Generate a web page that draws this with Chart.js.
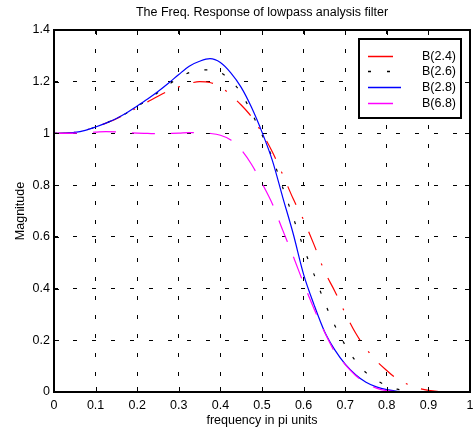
<!DOCTYPE html>
<html><head><meta charset="utf-8">
<script src="https://cdn.jsdelivr.net/npm/chart.js@4.4.0/dist/chart.umd.min.js"></script>
<style>html,body{margin:0;padding:0;background:#fff;overflow:hidden}canvas{display:block}</style>
</head><body>
<canvas id="c" width="474" height="433"></canvas>
<script>
const titleText = 'The Freq. Response of lowpass analysis filter';
const xTitle = 'frequency in pi units';
const yTitle = 'Magnitude';
const seriesNames = ['B(2.4)', 'B(2.6)', 'B(2.8)', 'B(6.8)'];

const freq = [0,0.025,0.05,0.075,0.1,0.125,0.15,0.175,0.2,0.225,0.25,0.275,0.3,0.325,0.35,0.375,0.4,0.425,0.45,0.475,0.5,0.525,0.55,0.575,0.6,0.625,0.65,0.675,0.7,0.725,0.75,0.775,0.8,0.825,0.85,0.875,0.9,0.925,0.95,0.975,1];
const b24 = [1.000,1.001,1.004,1.012,1.025,1.040,1.057,1.078,1.100,1.122,1.144,1.164,1.180,1.193,1.200,1.197,1.180,1.148,1.110,1.064,1.002,0.928,0.840,0.747,0.665,0.570,0.468,0.390,0.305,0.228,0.168,0.120,0.083,0.050,0.030,0.015,0.006,0.002,0.0005,0,0];
const b26 = [1.000,1.001,1.004,1.012,1.025,1.040,1.058,1.079,1.104,1.130,1.158,1.188,1.215,1.235,1.245,1.246,1.235,1.205,1.155,1.080,0.995,0.905,0.790,0.675,0.558,0.455,0.349,0.257,0.181,0.120,0.075,0.046,0.024,0.011,0.003,0.001,0,0,0,0,0];
const b28 = [1.000,1.001,1.004,1.012,1.025,1.040,1.058,1.080,1.106,1.133,1.162,1.194,1.228,1.260,1.279,1.289,1.274,1.234,1.178,1.100,1.005,0.895,0.752,0.612,0.455,0.338,0.235,0.163,0.108,0.067,0.038,0.020,0.009,0.003,0.001,0,0,0,0,0,0];
const b68 = [1.000,1.000,1.001,1.003,1.005,1.007,1.006,1.003,1.001,1.000,0.999,1.000,1.001,1.003,1.002,1.000,0.993,0.975,0.937,0.880,0.807,0.727,0.625,0.525,0.420,0.322,0.233,0.155,0.106,0.064,0.034,0.015,0.005,0.001,0,0,0,0,0,0,0];

const xTicks = [0,0.1,0.2,0.3,0.4,0.5,0.6,0.7,0.8,0.9,1];
const xTickLabels = ['0','0.1','0.2','0.3','0.4','0.5','0.6','0.7','0.8','0.9','1'];
const yTicks = [0,0.2,0.4,0.6,0.8,1,1.2,1.4];
const yTickLabels = ['0','0.2','0.4','0.6','0.8','1','1.2','1.4'];

const FONT = "'Liberation Sans', Arial, Helvetica, sans-serif";
const FS = 12.5;
Chart.defaults.font.family = FONT;
Chart.defaults.font.size = FS;
Chart.defaults.color = '#000';

const pts = arr => freq.map((f, i) => ({x: f, y: arr[i]}));
const common = {borderWidth: 1.2, pointRadius: 0, fill: false, cubicInterpolationMode: 'monotone'};

const framePlugin = {
  id: 'frame',
  afterDraw(chart) {
    const ctx = chart.ctx;
    const {left, right, top, bottom} = chart.chartArea;
    const xs = chart.scales.x, ys = chart.scales.y;
    ctx.save();
    ctx.strokeStyle = '#000';
    ctx.lineWidth = 1;
    ctx.setLineDash([]);
    ctx.beginPath();
    xTicks.forEach(v => {
      const px = Math.round(xs.getPixelForValue(v)) + 0.5;
      ctx.moveTo(px, bottom); ctx.lineTo(px, bottom - 5);
      ctx.moveTo(px, top); ctx.lineTo(px, top + 5);
    });
    yTicks.forEach(v => {
      const py = Math.round(ys.getPixelForValue(v)) + 0.5;
      ctx.moveTo(left, py); ctx.lineTo(left + 5, py);
      ctx.moveTo(right, py); ctx.lineTo(right - 5, py);
    });
    ctx.stroke();
    ctx.lineWidth = 2;
    ctx.strokeRect(left, top, right - left, bottom - top);
    // title
    ctx.fillStyle = '#000';
    ctx.font = FS + 'px ' + FONT;
    ctx.textAlign = 'center';
    ctx.textBaseline = 'middle';
    ctx.fillText(titleText, (left + right) / 2, 13);
    // legend
    const lx = right - 111, ly = top + 9, lw = 102, lh = 79;
    ctx.fillStyle = '#fff';
    ctx.fillRect(lx, ly, lw, lh);
    ctx.lineWidth = 2;
    ctx.strokeStyle = '#000';
    ctx.strokeRect(lx, ly, lw, lh);
    chart.data.datasets.forEach((ds, i) => {
      const y = Math.round(ly + 16.7 + i * 15.7) + 0.5;
      ctx.save();
      ctx.strokeStyle = ds.borderColor;
      ctx.lineWidth = 1.5;
      ctx.setLineDash(ds.legendDash || []);
      ctx.beginPath();
      ctx.moveTo(lx + 9, y); ctx.lineTo(lx + 42, y);
      ctx.stroke();
      ctx.restore();
      ctx.fillStyle = '#000';
      ctx.textAlign = 'right';
      ctx.textBaseline = 'middle';
      ctx.fillText(ds.label, lx + 97, y);
    });
    ctx.restore();
  }
};

new Chart(document.getElementById('c'), {
  type: 'line',
  data: {
    datasets: [
      Object.assign({label: seriesNames[0], data: pts(b24), borderColor: '#ff0000', borderDash: [20, 14, 2, 14], legendDash: [25, 20], order: 4}, common),
      Object.assign({label: seriesNames[1], data: pts(b26), borderColor: '#000000', borderDash: [3, 15.5], legendDash: [3, 16], order: 3}, common),
      Object.assign({label: seriesNames[2], data: pts(b28), borderColor: '#0000ff', borderDash: [], legendDash: [], order: 2}, common),
      Object.assign({label: seriesNames[3], data: pts(b68), borderColor: '#ff00ff', borderDash: [23, 16], legendDash: [25, 20], order: 1}, common)
    ]
  },
  options: {
    responsive: false,
    animation: false,
    events: [],
    layout: {padding: {top: 30, right: 4, left: 0, bottom: 0}},
    plugins: {legend: {display: false}, tooltip: {enabled: false}, title: {display: false}},
    scales: {
      x: {
        type: 'linear', min: 0, max: 1,
        afterBuildTicks: s => { s.ticks = xTicks.map(v => ({value: v})); },
        afterFit: s => { s.height = 41; s.paddingLeft = 0; s.paddingRight = 0; },
        ticks: {padding: 6, maxRotation: 0, autoSkip: false, callback: (v, i) => xTickLabels[i]},
        grid: {color: '#000', lineWidth: 1, drawTicks: false},
        border: {display: false, dash: [4, 15]},
        title: {display: true, text: xTitle, padding: {top: 0, bottom: 5}}
      },
      y: {
        type: 'linear', min: 0, max: 1.4,
        afterBuildTicks: s => { s.ticks = yTicks.map(v => ({value: v})); },
        afterFit: s => { s.width = 54; s.paddingTop = 0; s.paddingBottom = 0; },
        ticks: {padding: 4, autoSkip: false, callback: (v, i) => yTickLabels[i]},
        grid: {color: '#000', lineWidth: 1, drawTicks: false},
        border: {display: false, dash: [4, 15]},
        title: {display: true, text: yTitle, padding: {top: 13.5, bottom: 0}}
      }
    }
  },
  plugins: [framePlugin]
});
</script>
</body></html>
